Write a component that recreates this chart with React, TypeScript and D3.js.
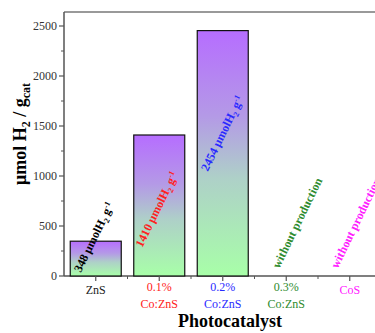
import React from 'react';
import * as d3 from 'd3';

// data
const catTop = ['ZnS', '0.1%', '0.2%', '0.3%', 'CoS'];
const catBottom = ['', 'Co:ZnS', 'Co:ZnS', 'Co:ZnS', ''];
const catColors = ['#222222', '#ff2020', '#2a2aff', '#2e8b2e', '#ff20ff'];
const h2Values = [348, 1410, 2454, 0, 0];
const yTicks = [0, 500, 1000, 1500, 2000, 2500];

const W = 375, H = 333;
const left = 64, top = 12, bottom = 276;
const step = 63.5;
const barW = 51;

// where each rotated annotation starts (data units) and its shift in px
const noteAt = [
  { v: 30, dx: -15 },
  { v: 280, dx: -17 },
  { v: 1040, dx: -15 },
  { v: 70, dx: -7 },
  { v: 70, dx: -12 },
];

export default function App() {
  const y = d3.scaleLinear().domain([0, 2640]).range([bottom, top]);
  const x = d3.scaleLinear().domain([-0.5, 5]).range([left, left + 5.5 * step]);
  const minorY = d3.range(250, 2640, 500);
  const minorX = d3.range(0.5, 5, 1);
  const axisCol = '#555';
  const font = '"Liberation Serif", "Times New Roman", serif';

  return (
    <svg width={W} height={H} style={{ position: 'absolute', left: 0, top: 0 }} fontFamily={font}>
      <defs>
        <linearGradient id="barGrad" x1="0" y1="0" x2="0" y2="1">
          <stop offset="0" stopColor="#b66dff" />
          <stop offset="0.35" stopColor="#b49ae6" />
          <stop offset="0.6" stopColor="#aed0c8" />
          <stop offset="1" stopColor="#a8ffa8" />
        </linearGradient>
      </defs>
      <rect x={0} y={0} width={W} height={H} fill="#fff" />

      {/* frame */}
      <line x1={left} x2={W} y1={top} y2={top} stroke="#777" strokeWidth={1.5} />
      <line x1={left} x2={left} y1={top} y2={bottom} stroke={axisCol} strokeWidth={1.5} />
      <line x1={left} x2={W} y1={bottom} y2={bottom} stroke={axisCol} strokeWidth={1.5} />

      {/* bars */}
      {h2Values.map((v, i) =>
        v > 0 ? (
          <rect key={i} x={x(i) - barW / 2} y={y(v)} width={barW} height={y(0) - y(v)}
            fill="url(#barGrad)" stroke="#111" strokeWidth={1.2} />
        ) : null
      )}

      {/* y ticks */}
      {yTicks.map(t => (
        <g key={t}>
          <line x1={left - 5} x2={left} y1={y(t)} y2={y(t)} stroke={axisCol} strokeWidth={1.2} />
          <text x={left - 7} y={y(t)} dy="0.35em" textAnchor="end" fontSize={12} fill="#333">{t}</text>
        </g>
      ))}
      {minorY.map(t => (
        <line key={t} x1={left - 3} x2={left} y1={y(t)} y2={y(t)} stroke={axisCol} strokeWidth={1} />
      ))}

      {/* x ticks */}
      {catTop.map((c, i) => (
        <g key={c}>
          <line x1={x(i)} x2={x(i)} y1={bottom} y2={bottom + 5} stroke={axisCol} strokeWidth={1.2} />
          <text x={x(i)} y={catBottom[i] ? 291 : 294} textAnchor="middle" fontSize={12} fill={catColors[i]}>{c}</text>
          {catBottom[i] && (
            <text x={x(i)} y={308} textAnchor="middle" fontSize={12} fill={catColors[i]}>{catBottom[i]}</text>
          )}
        </g>
      ))}
      {minorX.map(t => (
        <line key={t} x1={x(t)} x2={x(t)} y1={bottom} y2={bottom + 3} stroke={axisCol} strokeWidth={1} />
      ))}

      {/* annotations */}
      {h2Values.map((v, i) => {
        const sx = x(i) + noteAt[i].dx;
        const sy = y(noteAt[i].v);
        return (
          <text key={i} transform={`translate(${sx},${sy}) rotate(-64)`} textAnchor="start"
            fontSize={12} fontWeight="bold" fill={catColors[i] === '#222222' ? '#000' : catColors[i]}>
            {v > 0 ? (
              <>
                {v} μmolH<tspan fontSize={8} dy={3}>2</tspan>
                <tspan dy={-3}> g</tspan>
                <tspan fontSize={8} dy={-4}>-1</tspan>
              </>
            ) : 'without production'}
          </text>
        );
      })}

      {/* axis titles */}
      <text x={230} y={327} textAnchor="middle" fontSize={18} fontWeight="bold" fill="#000">Photocatalyst</text>
      <text transform={`translate(26,${134}) rotate(-90)`} textAnchor="middle" fontSize={18} fontWeight="bold" fill="#000">
        μmol H<tspan fontSize={12} dy={4}>2</tspan>
        <tspan dy={-4}> / g</tspan>
        <tspan fontSize={12} dy={4}>cat</tspan>
      </text>
    </svg>
  );
}
